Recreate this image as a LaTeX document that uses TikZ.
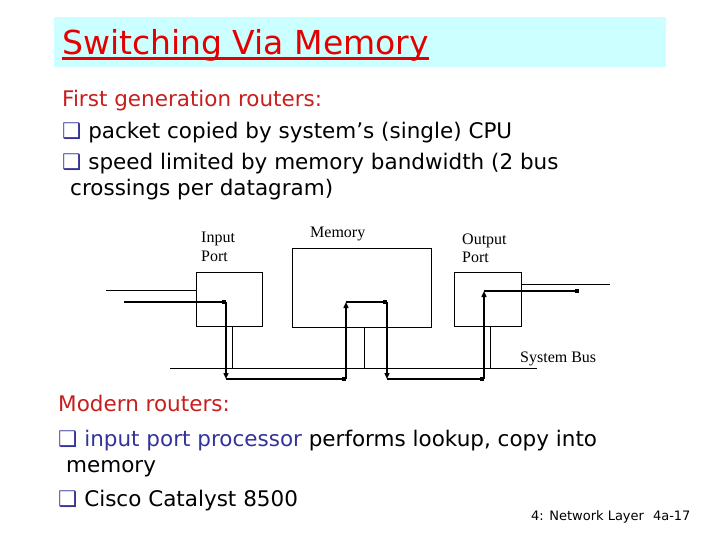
\documentclass[tikz,border=0pt]{standalone}
\usepackage{fontspec}
\setmainfont{DejaVu Sans}
\newfontfamily\figfont{Liberation Serif}
\newfontfamily\symfont{DejaVu Sans}
\usetikzlibrary{arrows.meta}
\definecolor{titlered}{RGB}{228,0,0}
\definecolor{headred}{RGB}{200,30,30}
\definecolor{bulletblue}{RGB}{51,51,153}
\definecolor{titlebg}{RGB}{204,255,255}
\newcommand{\qbul}{{\color{bulletblue}\symfont ❑}}

\begin{document}
\begin{tikzpicture}[x=1pt,y=-1pt,
  port/.style={draw, line width=0.8pt, anchor=north west, inner sep=0pt},
  lbl/.style={font=\figfont\fontsize{16}{18}\selectfont, align=left, anchor=base west, inner sep=0pt},
  txt/.style={anchor=base west, inner sep=0pt, font=\fontsize{21.5}{24}\selectfont},
  link/.style={line width=0.9pt},
  hop/.style={line width=2.6pt, -{Square[length=4.5pt,width=4.5pt]}},
  vop/.style={line width=1.4pt, -{Triangle[length=6pt,width=5pt]}}]
\useasboundingbox (0,0) rectangle (720,540);
% title
\node[fill=titlebg, anchor=north west, inner sep=0pt, minimum width=612pt, minimum height=50pt] (titlebar) at (54,17) {};
\node[anchor=base west, inner sep=0pt, text=titlered, font=\fontsize{33}{36}\selectfont] (title) at (62,55) {Switching Via Memory};
\draw[titlered, line width=2.6pt] ([yshift=-3.5pt]title.base west) -- ([yshift=-3.5pt]title.base east);
% first generation
\node[txt, text=headred] (first) at (62,107) {First generation routers:};
\node[txt] (b1) at (62,139) {\qbul{} packet copied by system’s (single) CPU};
\node[txt] (b2) at (62,170) {\qbul{} speed limited by memory bandwidth (2 bus};
\node[txt] (b2b) at (70,196) {crossings per datagram)};
% diagram
\node[port, minimum width=66pt, minimum height=54pt] (inport) at (196,272) {};
\node[port, minimum width=139pt, minimum height=79pt] (mem) at (292,248) {};
\node[port, minimum width=67pt, minimum height=54pt] (outport) at (454,272) {};
\node[lbl] (inlbl) at (201,261) {Input\\Port};
\node[lbl] (memlbl) at (310,237) {Memory};
\node[lbl] (outlbl) at (462,262) {Output\\Port};
\node[lbl] (buslbl) at (520,362) {System Bus};
\coordinate (inl) at (106,290);
\coordinate (outl) at (610,284);
\coordinate (busl) at (170,368);
\coordinate (busr) at (537,368);
\coordinate (t1) at (232,368);
\coordinate (t2) at (364,368);
\coordinate (t3) at (490,368);
\draw[link] (inl) -- (inport.west |- inl);
\draw[link] (outport.east |- outl) -- (outl);
\draw[link] (busl) -- (busr);
\draw[link] (inport.south -| t1) -- (t1);
\draw[link] (mem.south -| t2) -- (t2);
\draw[link] (outport.south -| t3) -- (t3);
% packet path
\coordinate (p0) at (124,302);
\coordinate (p1) at (226,302);
\coordinate (p2) at (226,379);
\coordinate (p3) at (346,379);
\coordinate (p4) at (346,302);
\coordinate (p5) at (387,302);
\coordinate (p6) at (387,379);
\coordinate (p7) at (484,379);
\coordinate (p8) at (484,291);
\coordinate (p9) at (579,291);
\draw[hop] (p0) -- (p1);
\draw[vop] (p1) -- (p2);
\draw[hop] (p2) -- (p3);
\draw[vop] (p3) -- (p4);
\draw[hop] (p4) -- (p5);
\draw[vop] (p5) -- (p6);
\draw[hop] (p6) -- (p7);
\draw[vop] (p7) -- (p8);
\draw[hop] (p8) -- (p9);
% modern routers
\node[txt, text=headred] (modern) at (58,411) {Modern routers:};
\node[txt] (b3) at (58,446) {\qbul{} {\color{bulletblue}input port processor} performs lookup, copy into};
\node[txt] (b3b) at (66,472) {memory};
\node[txt] (b4) at (58,506) {\qbul{} Cisco Catalyst 8500};
\node[anchor=base west, inner sep=0pt, font=\fontsize{13}{14}\selectfont] (foot) at (531,520) {4: Network Layer\hspace{9pt}4a-17};
\end{tikzpicture}
\end{document}
